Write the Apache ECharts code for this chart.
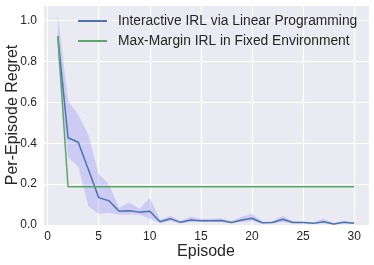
<!DOCTYPE html>
<html><head><meta charset="utf-8">
<script src="https://cdn.jsdelivr.net/npm/echarts@6/dist/echarts.min.js"></script>
<style>html,body{margin:0;padding:0;background:#fff}#c{width:374px;height:265px}</style>
</head><body><div id="c"></div>
<script>
const episodes = [1,2,3,4,5,6,7,8,9,10,11,12,13,14,15,16,17,18,19,20,21,22,23,24,25,26,27,28,29,30];
const interactiveMean = [0.925,0.427,0.405,0.27,0.134,0.119,0.067,0.07,0.063,0.067,0.016,0.031,0.013,0.024,0.021,0.021,0.022,0.012,0.024,0.033,0.011,0.012,0.028,0.012,0.012,0.008,0.016,0.005,0.014,0.009];
const interactiveLower = [0.82,0.33,0.285,0.09,0.055,0.06,0.05,0.05,0.05,0.03,0.01,0.02,0.008,0.015,0.015,0.015,0.015,0.008,0.015,0.02,0.007,0.008,0.015,0.008,0.008,0.005,0.008,0.003,0.008,0.005];
const interactiveUpper = [1.03,0.61,0.54,0.44,0.25,0.2,0.085,0.11,0.08,0.134,0.025,0.045,0.02,0.04,0.03,0.03,0.032,0.018,0.04,0.055,0.016,0.018,0.045,0.018,0.016,0.012,0.03,0.009,0.02,0.013];
const maxMargin = [0.925,0.187,0.187,0.187,0.187,0.187,0.187,0.187,0.187,0.187,0.187,0.187,0.187,0.187,0.187,0.187,0.187,0.187,0.187,0.187,0.187,0.187,0.187,0.187,0.187,0.187,0.187,0.187,0.187,0.187];
const seriesNames = ['Interactive IRL via Linear Programming','Max-Margin IRL in Fixed Environment'];

const pairs = arr => episodes.map((e,i)=>[e,arr[i]]);
const FONT = '"Liberation Sans", Arial, sans-serif';
const TXT = '#262626';

const chart = echarts.init(document.getElementById('c'), null, {renderer:'canvas'});
chart.setOption({
  animation:false,
  backgroundColor:'#ffffff',
  grid:{left:43,right:5,top:5,bottom:40,show:true,backgroundColor:'#EAEAF2',borderWidth:0,
        containLabel:false, outerBoundsMode:'none'},
  legend:{
    data:seriesNames, orient:'vertical', left:78, top:14, padding:0,
    itemWidth:29, itemHeight:2, itemGap:6, icon:'rect',
    textStyle:{fontFamily:FONT,fontSize:13.8,color:TXT,padding:[0,0,0,6]}
  },
  xAxis:{
    type:'value', min:-0.45, max:31.45, minInterval:5, maxInterval:5,
    name:'Episode', nameLocation:'middle', nameGap:19, nameMoveOverlap:false,
    nameTextStyle:{fontFamily:FONT,fontSize:16,color:TXT},
    axisLine:{show:false}, axisTick:{show:false},
    axisLabel:{fontFamily:FONT,fontSize:12,color:TXT,margin:6,
      formatter:v=>(Math.abs(v-Math.round(v/5)*5)<1e-6? String(Math.round(v)) : '')},
    splitLine:{show:true,lineStyle:{color:'#ffffff',width:1.2}}
  },
  yAxis:{
    type:'value', min:0, max:1.077, interval:0.2,
    name:'Per-Episode Regret', nameLocation:'middle', nameGap:22, nameMoveOverlap:false,
    nameTextStyle:{fontFamily:FONT,fontSize:16,color:TXT},
    axisLine:{show:false}, axisTick:{show:false},
    axisLabel:{fontFamily:FONT,fontSize:12,color:TXT,margin:6,
      formatter:v=>(Math.abs(v*5-Math.round(v*5))<1e-6? v.toFixed(1) : '')},
    splitLine:{show:true,lineStyle:{color:'#ffffff',width:1.2}}
  },
  series:[
    {name:'band', type:'custom', silent:true, z:1, data:[[episodes[0], interactiveUpper[0]]],
     renderItem:(params, api)=>{
       const pts = [];
       for (let i=0;i<episodes.length;i++) pts.push(api.coord([episodes[i], interactiveUpper[i]]));
       for (let i=episodes.length-1;i>=0;i--) pts.push(api.coord([episodes[i], interactiveLower[i]]));
       return {type:'polygon', shape:{points:pts}, style:{fill:'rgba(0,0,255,0.13)'}};
     }},
    {name:seriesNames[0], type:'line', data:pairs(interactiveMean), showSymbol:false, symbol:'none',
     color:'#4C72B0', lineStyle:{color:'#4C72B0',width:1.5}, z:3},
    {name:seriesNames[1], type:'line', data:pairs(maxMargin), showSymbol:false, symbol:'none',
     color:'#55A868', lineStyle:{color:'#55A868',width:1.5}, z:4}
  ]
});
</script></body></html>
